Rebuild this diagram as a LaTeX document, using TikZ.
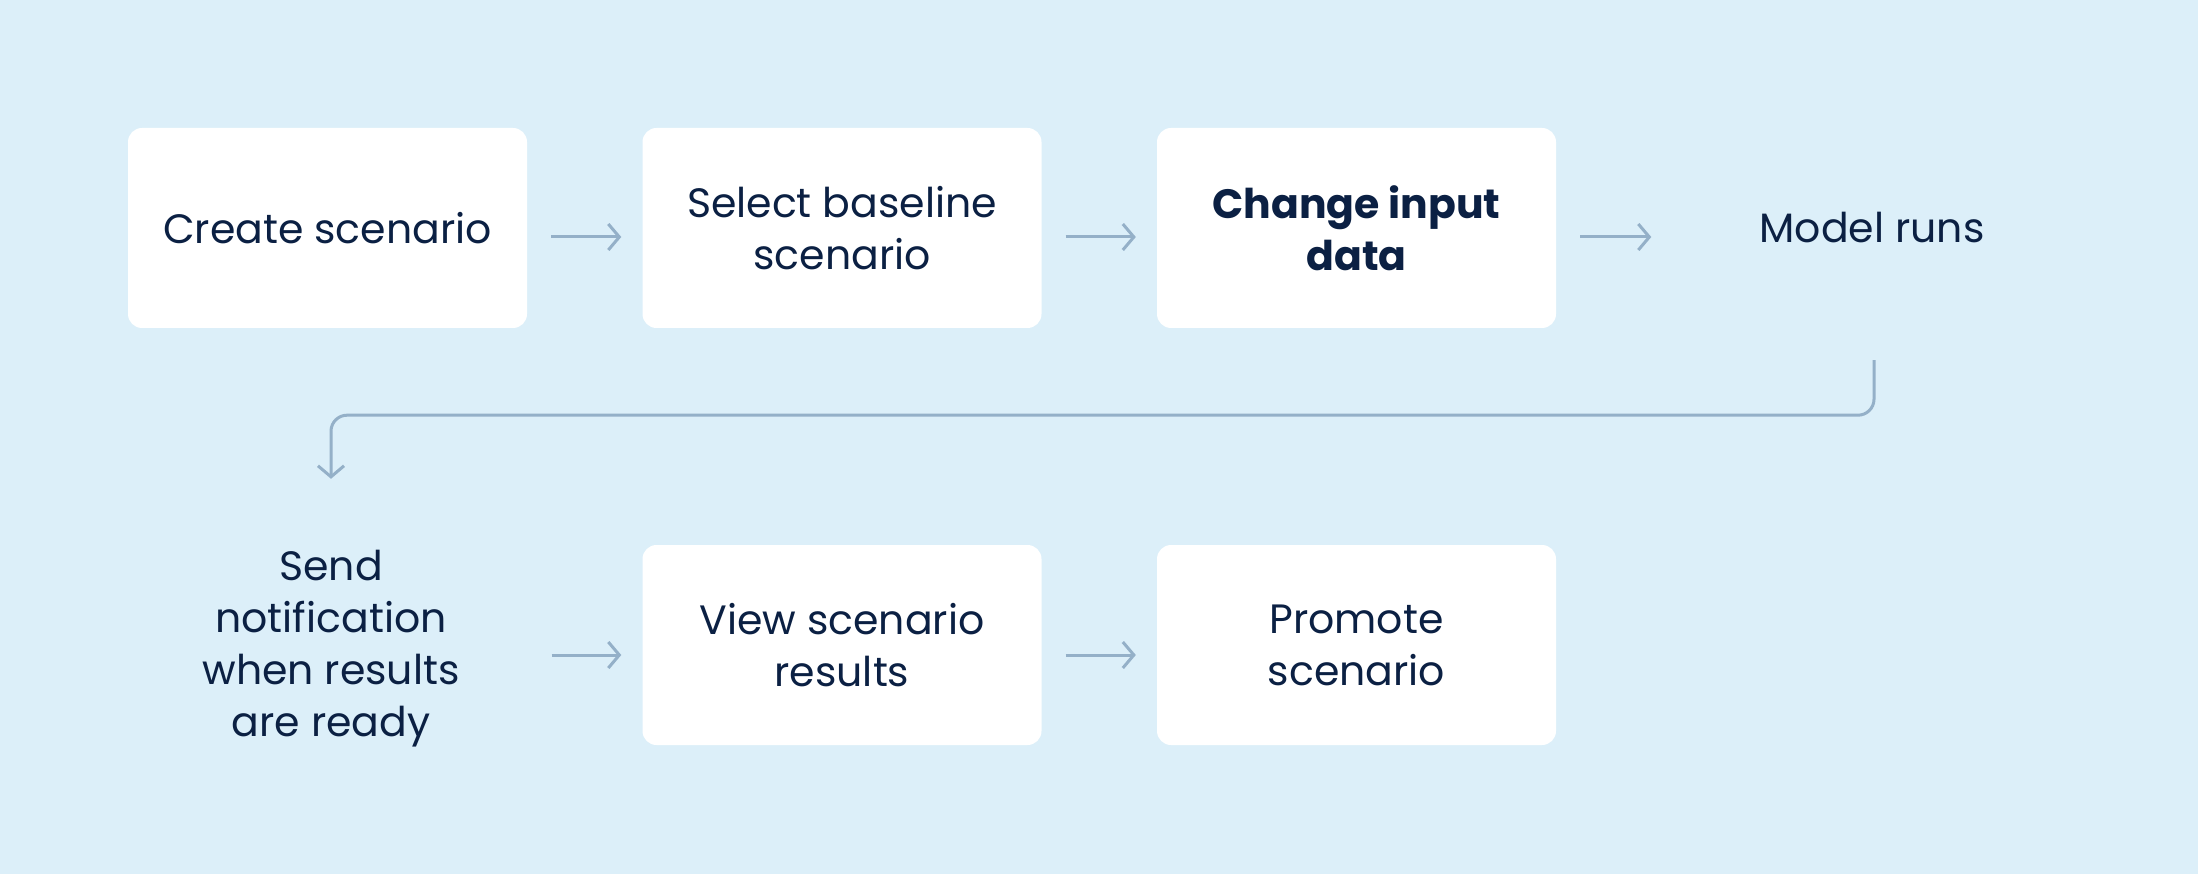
\documentclass[tikz,border=0pt]{standalone}
\usepackage{fontspec}
\setmainfont{Poppins}
\usetikzlibrary{arrows.meta,calc}
\definecolor{bgc}{HTML}{DCEFF9}
\definecolor{linec}{HTML}{94B0C8}
\definecolor{txtc}{HTML}{0B2043}
\begin{document}
\begin{tikzpicture}[x=1pt,y=-1pt,
  stepbox/.style={rectangle, fill=white, rounded corners=14pt, minimum width=399pt, minimum height=200pt, align=center, text=txtc, font=\fontsize{41}{52}\selectfont, inner sep=0pt},
  plainbox/.style={rectangle, minimum width=399pt, minimum height=200pt, align=center, text=txtc, font=\fontsize{41}{52}\selectfont, inner sep=0pt},
  conn/.style={draw=linec, line width=3pt, -{Straight Barb[length=11pt,width=26pt,line width=3pt]}},
]
\fill[bgc] (0,0) rectangle (2198,874);
\useasboundingbox (0,0) rectangle (2198,874);
\node[stepbox] (b1) at (327.5,228) {Create scenario};
\node[stepbox] (b2) at (842,228) {Select baseline\\scenario};
\node[stepbox] (b3) at (1356.5,228) {\textbf{Change input}\\\textbf{data}};
\node[plainbox] (mr) at (1872,228) {Model runs};
\node[plainbox] (sn) at (331,649) {Send\\notification\\when results\\are ready};
\node[stepbox] (b5) at (842,645) {View scenario\\results};
\node[stepbox] (b6) at (1356.5,645) {Promote\\scenario};
\draw[conn] ($(b1.east)+(24,9)$) -- ($(b2.west)+(-21,9)$);
\draw[conn] ($(b2.east)+(24,9)$) -- ($(b3.west)+(-21,9)$);
\draw[conn] ($(b3.east)+(24,9)$) -- ($(mr.west)+(-21,9)$);
\draw[conn] ($(sn.east)+(21,6)$) -- ($(b5.west)+(-21,10)$);
\draw[conn] ($(b5.east)+(24,10)$) -- ($(b6.west)+(-21,10)$);
\draw[conn, rounded corners=16pt] ($(mr.south)+(2,32)$) -- ++(0,55) -| ($(sn.north)+(0,-70)$);
\end{tikzpicture}
\end{document}
